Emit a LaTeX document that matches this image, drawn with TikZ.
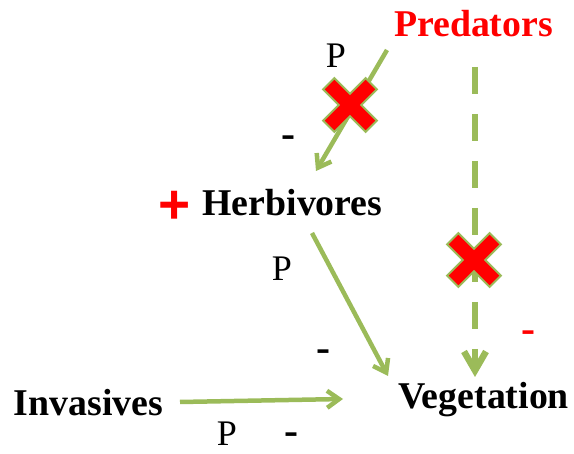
\documentclass[tikz,border=0pt]{standalone}
\usepackage{fontspec}
\setmainfont{Liberation Serif}
\newfontfamily\plusfont{Liberation Sans}
\usetikzlibrary{arrows.meta}
\definecolor{arrowgreen}{HTML}{9BBB59}
\tikzset{
  conn/.style={draw=arrowgreen, line width=4.5pt, -{Straight Barb[length=12pt,width=17pt]}},
  dconn/.style={draw=arrowgreen, line width=6.5pt, dash pattern=on 27pt off 20pt, -{Straight Barb[length=19pt,width=22pt]}},
  term/.style={font=\fontsize{37.8}{40}\selectfont\bfseries, inner sep=0pt, anchor=base},
  plabel/.style={font=\fontsize{36}{40}\selectfont, inner sep=0pt, anchor=base},
  sign/.style={font=\fontsize{42}{44}\selectfont\bfseries, inner sep=0pt, anchor=base},
  crossmark/.pic={\filldraw[fill=red, draw=arrowgreen, line width=2pt, rotate=45]
    (30,8) -- (8,8) -- (8,30) -- (-8,30) -- (-8,8) -- (-30,8) -- (-30,-8) -- (-8,-8)
    -- (-8,-30) -- (8,-30) -- (8,-8) -- (30,-8) -- cycle;}
}
\begin{document}
\begin{tikzpicture}[x=1pt,y=-1pt]
\useasboundingbox (0,0) rectangle (574,454);
% terms
\node[term, text=red] (pred) at (473.5,37) {Predators};
\node[term] (herb) at (292.5,216) {Herbivores};
\node[term] (inv) at (88.5,416) {Invasives};
\node[term] (veg) at (483.5,409) {Vegetation};
\node[font=\plusfont\fontsize{55}{55}\selectfont\bfseries, text=red, inner sep=0pt, anchor=base] (plus) at (174.5,224) {+};
% connector ends
\coordinate (predA) at (387,50);
\coordinate (herbIn) at (316,171);
\coordinate (herbOut) at (312,233);
\coordinate (vegIn1) at (388,376);
\coordinate (predB) at (475,67);
\coordinate (vegIn2) at (475,377);
\coordinate (invOut) at (180,402);
\coordinate (vegIn3) at (343,399);
% connectors
\draw[conn] (predA) -- (herbIn);
\draw[conn] (herbOut) -- (vegIn1);
\draw[conn] (invOut) -- (vegIn3);
\draw[dconn] (predB) -- (vegIn2);
% crosses
\pic at (350,105) {crossmark};
\pic at (474,260) {crossmark};
% labels
\node[plabel] (p1) at (336,68) {P};
\node[sign] (m1) at (288,148) {-};
\node[plabel] (p2) at (282,281) {P};
\node[sign] (m2) at (323,362) {-};
\node[plabel] (p3) at (227,446) {P};
\node[sign] (m3) at (291,445) {-};
\node[sign, text=red] (m4) at (528,343) {-};
\end{tikzpicture}
\end{document}
